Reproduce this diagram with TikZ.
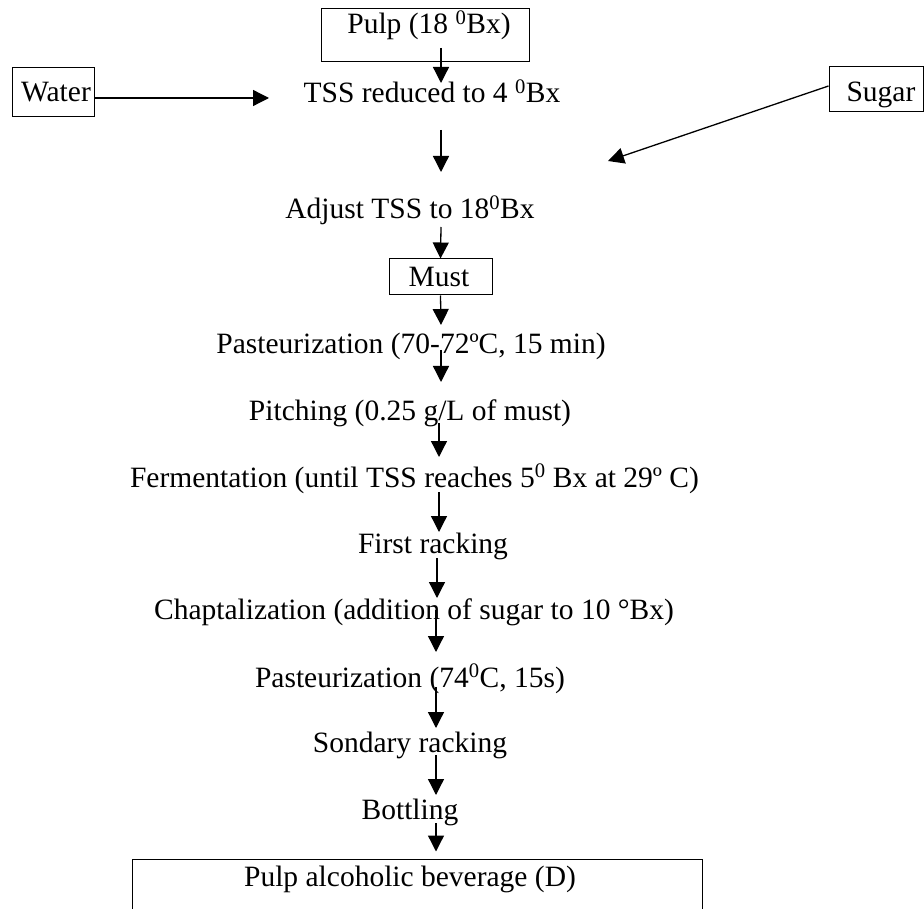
\documentclass[tikz,border=0pt]{standalone}
\usepackage{fontspec}
\setmainfont{Liberation Serif}
\usetikzlibrary{arrows.meta}
\begin{document}
\begin{tikzpicture}[x=1pt,y=-1pt,
  lbl/.style={inner sep=0pt, anchor=base, font=\fontsize{29.5}{35}\selectfont},
  boxd/.style={draw, line width=1pt, inner sep=0pt},
  arr/.style={line width=1.3pt, -{Triangle[length=16pt,width=16pt]}}]
\useasboundingbox (0,0) rectangle (924,909);
\clip (0,0) rectangle (924,909);
\fill[white] (0,0) rectangle (924,909);
% boxes
\node[boxd, minimum width=208pt, minimum height=53pt] (pulpbox) at (425,35.5) {};
\node[boxd, minimum width=103pt, minimum height=36pt] (mustbox) at (440.5,277) {};
\node[boxd, minimum width=82pt, minimum height=49pt] (waterbox) at (53,92.5) {};
\node[boxd, minimum width=94pt, minimum height=45pt] (sugarbox) at (876,89.5) {};
\node[boxd, minimum width=570pt, minimum height=81pt] (botbox) at (417,899.5) {};
% texts
\node[lbl] (pulpt) at (429,34) {Pulp (18 \textsuperscript{0}Bx)};
\node[lbl] (water) at (56,102) {Water};
\node[lbl] (sugar) at (881,102) {Sugar};
\node[lbl] (tss) at (432,103) {TSS reduced to 4 \textsuperscript{0}Bx};
\node[lbl] (adjust) at (410,219) {Adjust TSS to 18\textsuperscript{0}Bx};
\node[lbl] (mustt) at (439,287) {Must};
\node[lbl] (past1) at (411,353) {Pasteurization (70-72ºC, 15 min)};
\node[lbl] (pitch) at (410,420) {Pitching (0.25 g/L of must)};
\node[lbl] (ferm) at (414.5,487) {Fermentation (until TSS reaches 5\textsuperscript{0} Bx at 29º C)};
\node[lbl] (first) at (433,553) {First racking};
\node[lbl] (chapt) at (414,619) {Chaptalization (addition of sugar to 10 °Bx)};
\node[lbl] (past2) at (410,687) {Pasteurization (74\textsuperscript{0}C, 15s)};
\node[lbl] (sond) at (410,752) {Sondary racking};
\node[lbl] (bott) at (410,819) {Bottling};
\node[lbl] (pab) at (410,886) {Pulp alcoholic beverage (D)};
% free ends
\coordinate (wattip) at (269,98);
\coordinate (sugtip) at (608,161);
% connectors
\draw[arr] ([shift={(0,5.5)}]waterbox.east) -- (wattip);
\draw[arr] ([shift={(0,-3.5)}]sugarbox.west) -- (sugtip);
\draw[arr] ([shift={(12,14)}]pulpt.base) -- ([shift={(9,-20)}]tss.base);
\draw[arr] ([shift={(9,27)}]tss.base) -- ([shift={(31,-47)}]adjust.base);
\draw[arr] ([shift={(31,8)}]adjust.base) -- (mustbox.north);
\draw[arr] (mustbox.south) -- ([shift={(30,-28)}]past1.base);
\draw[arr] ([shift={(30,-3)}]past1.base) -- ([shift={(31,-38)}]pitch.base);
\draw[arr] ([shift={(29,3)}]pitch.base) -- ([shift={(24.5,-30)}]ferm.base);
\draw[arr] ([shift={(24.5,5)}]ferm.base) -- ([shift={(6,-21)}]first.base);
\draw[arr] ([shift={(4,5)}]first.base) -- ([shift={(23,-21)}]chapt.base);
\draw[arr] ([shift={(22,-9)}]chapt.base) -- ([shift={(26,-35)}]past2.base);
\draw[arr] ([shift={(26,0)}]past2.base) -- ([shift={(26,-24)}]sond.base);
\draw[arr] ([shift={(26,3)}]sond.base) -- ([shift={(26,-24)}]bott.base);
\draw[arr] ([shift={(26,4)}]bott.base) -- ([shift={(19,-7)}]botbox.north);
\end{tikzpicture}
\end{document}
